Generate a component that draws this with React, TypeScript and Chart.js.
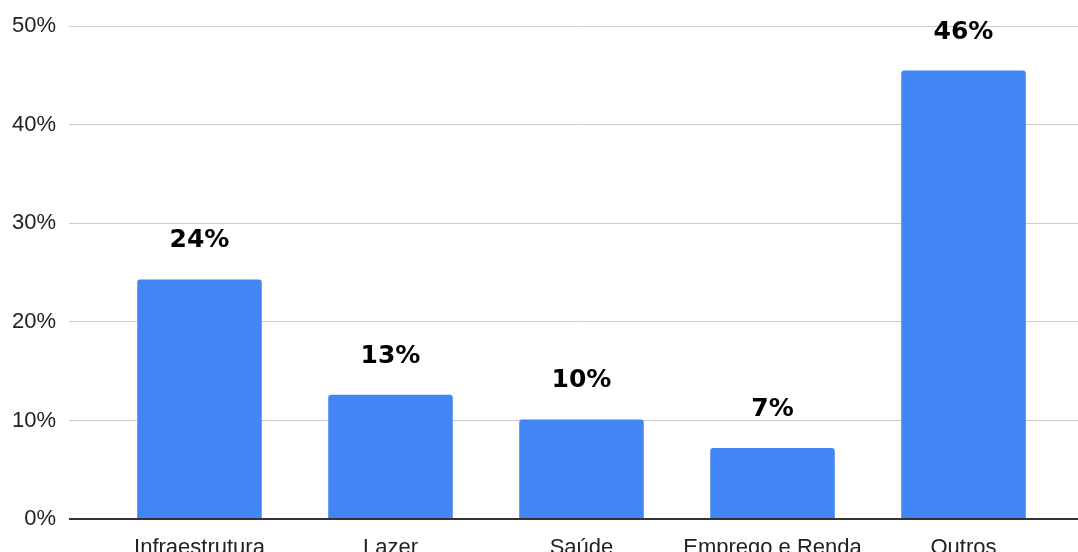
import React, { useEffect, useRef } from "react";
import { Chart, registerables } from "chart.js";

Chart.register(...registerables);

const categories = ["Infraestrutura", "Lazer", "Saúde", "Emprego e Renda", "Outros"];
const values = [24.3, 12.6, 10.1, 7.2, 45.5];
const yTickStep = 10;
const yMax = 50;

const gridColor = (ctx: any) => (ctx.tick && ctx.tick.value === 0 ? "#333333" : "#cccccc");
const gridWidth = (ctx: any) => (ctx.tick && ctx.tick.value === 0 ? 2 : 1);

const valueLabels = {
  id: "valueLabels",
  afterDatasetsDraw(chart: any) {
    const ctx = chart.ctx;
    const meta = chart.getDatasetMeta(0);
    ctx.save();
    ctx.font = "bold 25px 'DejaVu Sans'";
    ctx.fillStyle = "#000000";
    ctx.textAlign = "center";
    ctx.textBaseline = "alphabetic";
    meta.data.forEach((bar: any, i: number) => {
      const v = chart.data.datasets[0].data[i];
      ctx.fillText(Math.round(v) + "%", bar.x, bar.y - 32);
    });
    ctx.restore();
  },
};

export default function App() {
  const ref = useRef<HTMLCanvasElement>(null);
  useEffect(() => {
    document.body.style.margin = "0";
    const chart = new Chart(ref.current!, {
      type: "bar",
      data: {
        labels: categories,
        datasets: [
          {
            data: values,
            backgroundColor: "#4285f4",
            borderRadius: { topLeft: 3, topRight: 3, bottomLeft: 0, bottomRight: 0 },
            borderSkipped: "bottom",
            categoryPercentage: 1,
            barPercentage: 0.652,
          },
        ],
      },
      options: {
        responsive: false,
        animation: false,
        layout: { padding: { top: 25, left: 0, right: 0, bottom: 0 } },
        plugins: { legend: { display: false }, tooltip: { enabled: false } },
        scales: {
          x: {
            grid: { display: false },
            border: { display: false },
            ticks: {
              font: { family: "'Liberation Sans', Arial", size: 22 },
              color: "#222222",
              padding: 8,
              maxRotation: 0,
              autoSkip: false,
            },
            afterFit: (s: any) => {
              s.height = 33;
            },
          },
          y: {
            min: 0,
            max: yMax,
            border: { display: false },
            grid: { color: gridColor, lineWidth: gridWidth, tickLength: 35 },
            ticks: {
              stepSize: yTickStep,
              padding: 13,
              font: { family: "'Liberation Sans', Arial", size: 22 },
              color: "#222222",
              callback: (v: any) => v + "%",
            },
            afterFit: (s: any) => {
              s.width = 104;
            },
          },
          y2: {
            position: "right",
            min: 0,
            max: yMax,
            border: { display: false },
            grid: { color: gridColor, lineWidth: gridWidth, tickLength: 19, drawOnChartArea: false },
            ticks: { stepSize: yTickStep, display: false },
            afterFit: (s: any) => {
              s.width = 19;
            },
          },
        },
      },
      plugins: [valueLabels],
    });
    return () => chart.destroy();
  }, []);
  return <canvas ref={ref} width={1078} height={552} style={{ display: "block" }} />;
}
